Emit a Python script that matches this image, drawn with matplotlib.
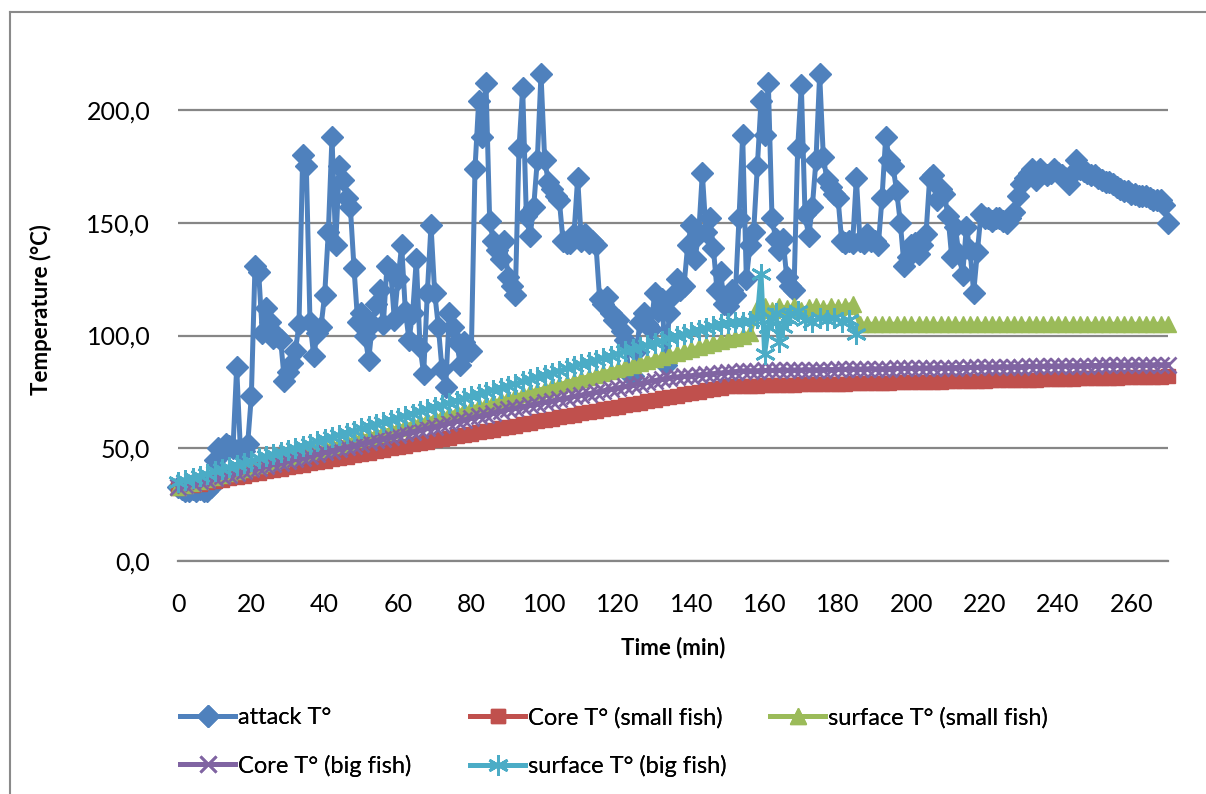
import numpy as np
import matplotlib.pyplot as plt
from matplotlib.lines import Line2D

plt.rcParams['font.family'] = ['Lato', 'DejaVu Sans']

# attack temperature, one reading per minute (0..270)
attack_temp = [
    33, 32, 31, 31, 32, 31, 32, 31, 31, 33,
    45, 50, 48, 52, 51, 50, 86, 50, 49, 52,
    73, 131, 128, 101, 112, 106, 99, 100, 98, 80,
    84, 88, 93, 105, 180, 175, 106, 91, 101, 104,
    118, 146, 188, 140, 175, 169, 161, 157, 130, 106,
    110, 100, 89, 105, 114, 120, 105, 131, 129, 107,
    125, 140, 111, 98, 110, 134, 95, 83, 119, 149,
    119, 104, 85, 77, 110, 104, 97, 87, 97, 93,
    93, 174, 204, 188, 212, 151, 142, 138, 134, 142,
    126, 122, 118, 183, 210, 153, 144, 157, 178, 216,
    178, 168, 165, 162, 160, 142, 141, 141, 145, 170,
    142, 145, 141, 142, 140, 116, 114, 117, 110, 107,
    107, 102, 98, 83, 82, 93, 106, 110, 105, 103,
    119, 111, 116, 87, 110, 118, 125, 120, 122, 140,
    149, 134, 145, 172, 146, 152, 139, 120, 128, 114,
    113, 120, 118, 152, 189, 125, 140, 146, 175, 204,
    189, 212, 152, 143, 138, 143, 126, 122, 120, 183,
    211, 154, 144, 157, 178, 216, 179, 169, 166, 163,
    161, 142, 141, 142, 141, 170, 142, 141, 145, 142,
    142, 140, 161, 188, 178, 175, 164, 150, 131, 135,
    140, 141, 136, 140, 145, 170, 171, 160, 165, 163,
    153, 135, 148, 136, 127, 148, 138, 119, 137, 154,
    152, 152, 151, 152, 152, 151, 150, 152, 155, 162,
    167, 170, 172, 174, 169, 174, 172, 171, 172, 174,
    172, 171, 170, 167, 172, 178, 174, 173, 172, 171,
    171, 170, 169, 168, 168, 167, 166, 165, 164, 164,
    163, 163, 162, 162, 162, 161, 160, 160, 160, 158,
    150,
]
attack_min = np.arange(len(attack_temp))

# smooth probes, one reading every 2 minutes (0..270)
core_small = [
    32.5, 33.1, 33.7, 34.3, 34.9, 35.5, 36.1, 36.7, 37.3, 37.9,
    38.5, 39.1, 39.7, 40.3, 40.9, 41.5, 42.1, 42.7, 43.3, 43.9,
    44.5, 45.1, 45.7, 46.3, 46.9, 47.5, 48.1, 48.7, 49.3, 49.9,
    50.5, 51.1, 51.7, 52.3, 52.9, 53.5, 54.1, 54.7, 55.3, 55.9,
    56.5, 57.1, 57.7, 58.3, 58.9, 59.5, 60.1, 60.7, 61.3, 61.9,
    62.5, 63.1, 63.7, 64.3, 64.9, 65.5, 66.1, 66.7, 67.3, 67.9,
    68.5, 69.1, 69.7, 70.3, 70.9, 71.5, 72.1, 72.7, 73.3, 73.9,
    74.5, 75.1, 75.7, 76.3, 76.9, 77.5,
    77.6, 77.7, 77.7, 77.8, 77.9, 78.0, 78.0, 78.1, 78.2, 78.3,
    78.3, 78.4, 78.5, 78.5, 78.6, 78.7, 78.8, 78.8, 78.9, 79.0,
    79.0, 79.1, 79.2, 79.3, 79.3, 79.4, 79.5, 79.5, 79.6, 79.7,
    79.8, 79.8, 79.9, 80.0, 80.0, 80.1, 80.2, 80.3, 80.3, 80.4,
    80.5, 80.5, 80.6, 80.7, 80.8, 80.8, 80.9, 81.0, 81.0, 81.1,
    81.2, 81.3, 81.3, 81.4, 81.5, 81.5, 81.6, 81.7, 81.8, 81.9,
]
surface_small = [
    33.0, 33.9, 34.7, 35.6, 36.5, 37.4, 38.2, 39.1, 40.0, 40.8,
    41.7, 42.6, 43.4, 44.3, 45.2, 46.1, 46.9, 47.8, 48.7, 49.5,
    50.4, 51.3, 52.1, 53.0, 53.9, 54.8, 55.6, 56.5, 57.4, 58.2,
    59.1, 60.0, 60.8, 61.7, 62.6, 63.5, 64.3, 65.2, 66.1, 66.9,
    67.8, 68.7, 69.5, 70.4, 71.3, 72.2, 73.0, 73.9, 74.8, 75.6,
    76.5, 77.4, 78.2, 79.1, 80.0, 80.9, 81.7, 82.6, 83.5, 84.3,
    85.2, 86.1, 86.9, 87.8, 88.7, 89.6, 90.4, 91.3, 92.2, 93.0,
    93.9, 94.8, 95.6, 96.5, 97.4, 98.3, 99.1, 100.0,
    101.0, 112.0, 113.0, 111.5, 113.0, 112.0, 113.0, 111.5, 112.5, 113.0,
    112.0, 113.0, 112.5, 113.0, 114.0,
    105.0, 105.0, 105.0, 105.0, 105.0, 105.0, 105.0, 105.0, 105.0, 105.0,
    105.0, 105.0, 105.0, 105.0, 105.0, 105.0, 105.0, 105.0, 105.0, 105.0,
    105.0, 105.0, 105.0, 105.0, 105.0, 105.0, 105.0, 105.0, 105.0, 105.0,
    105.0, 105.0, 105.0, 105.0, 105.0, 105.0, 105.0, 105.0, 105.0, 105.0,
    105.0, 105.0, 105.0,
]
core_big = [
    33.0, 33.8, 34.5, 35.3, 36.0, 36.8, 37.6, 38.3, 39.1, 39.8,
    40.6, 41.4, 42.1, 42.9, 43.6, 44.4, 45.2, 45.9, 46.7, 47.4,
    48.2, 49.0, 49.7, 50.5, 51.2, 52.0, 52.8, 53.5, 54.3, 55.0,
    55.8, 56.6, 57.3, 58.1, 58.8, 59.6, 60.4, 61.1, 61.9, 62.6,
    63.4, 64.2, 64.9, 65.7, 66.4, 67.2,
    67.8, 68.5, 69.1, 69.8, 70.4, 71.0, 71.7, 72.3, 73.0, 73.6,
    74.2, 74.9, 75.5, 76.2, 76.8, 77.4, 78.1, 78.7, 79.4, 80.0,
    80.6, 81.3,
    81.6, 81.9, 82.2, 82.5, 82.8, 83.1, 83.4, 83.7, 84.0, 84.3,
    84.4, 84.4, 84.5, 84.5, 84.6, 84.6, 84.7, 84.7, 84.8, 84.8,
    84.9, 84.9, 85.0, 85.0, 85.1, 85.1, 85.2, 85.2, 85.3, 85.3,
    85.4, 85.4, 85.5, 85.5, 85.6, 85.6, 85.7, 85.7, 85.8, 85.8,
    85.9, 85.9, 86.0, 86.0, 86.1, 86.1, 86.2, 86.2, 86.3, 86.3,
    86.4, 86.4, 86.5, 86.5, 86.6, 86.6, 86.7, 86.7, 86.8, 86.8,
    86.8, 86.9, 86.9, 86.9, 87.0, 87.0, 87.0, 87.1,
]
probe_min = np.arange(0, 271, 2)

# surface of the big fish: every 2 minutes up to 148, then the probe jumps around
surface_big_head = [
    35.0, 36.0, 36.9, 37.9, 38.8, 39.8, 40.7, 41.7, 42.6, 43.6,
    44.5, 45.5, 46.4, 47.4, 48.3, 49.3, 50.2, 51.2, 52.1, 53.1,
    54.0, 55.0, 55.9, 56.9, 57.8, 58.8, 59.7, 60.7, 61.6, 62.6,
    63.5, 64.5, 65.4, 66.4, 67.3, 68.3, 69.2, 70.2, 71.1, 72.1,
    73.0, 74.0, 74.9, 75.9, 76.8, 77.8, 78.7, 79.7, 80.6, 81.6,
    82.5, 83.5, 84.4, 85.4, 86.3, 87.3, 88.2, 89.2, 90.1, 91.1,
    92.0, 93.0, 93.9, 94.9, 95.8, 96.8, 97.7, 98.7, 99.6, 100.6,
    101.5, 102.5, 103.4, 104.4, 105.0,
]
surface_big_tail_min = [150, 152, 154, 156, 158, 159, 160, 161, 162, 163, 164, 165,
                        166, 167, 169, 171, 173, 175, 177, 179, 181, 183, 185]
surface_big_tail = [105.5, 106, 106, 106.5, 108, 127.5, 92, 104, 108, 110, 97, 104,
                    108, 109, 111, 107, 106, 108, 107, 108, 106, 107, 100.5]
surface_big_min = np.concatenate([np.arange(0, 149, 2), surface_big_tail_min])
surface_big = surface_big_head + surface_big_tail

ytick_vals = [0, 50, 100, 150, 200]
ytick_labels = ['0,0', '50,0', '100,0', '150,0', '200,0']
xtick_vals = list(range(0, 261, 20))

W, H = 1206, 794
fig = plt.figure(figsize=(W / 100, H / 100), dpi=100)
ax = fig.add_axes([178 / W, 1 - 561 / H, 990 / W, 496 / H])

blue, red, green, purple, cyan = '#4F81BD', '#C0504D', '#9BBB59', '#8064A2', '#4BACC6'
lw = 3.6
h1, = ax.plot(attack_min, attack_temp, color=blue, lw=lw, marker='D', ms=11,
              clip_on=False, zorder=3, label='attack T°')
h2, = ax.plot(probe_min, core_small, color=red, lw=lw, marker='s', ms=10,
              clip_on=False, zorder=4, label='Core T° (small fish)')
h3, = ax.plot(probe_min, surface_small, color=green, lw=lw, marker='^', ms=12,
              clip_on=False, zorder=5, label='surface T° (small fish)')
h4, = ax.plot(probe_min, core_big, color=purple, lw=lw, marker='x', ms=11, mew=2,
              clip_on=False, zorder=6, label='Core T° (big fish)')
h5, = ax.plot(surface_big_min, surface_big, color=cyan, lw=lw, marker=(6, 2, 0), ms=15,
              mew=2, clip_on=False, zorder=7, label='surface T° (big fish)')

ax.set_xlim(0, 270)
ax.set_ylim(0, 220)
ax.set_yticks(ytick_vals)
ax.set_yticklabels(ytick_labels)
ax.set_xticks(xtick_vals)
ax.yaxis.grid(True, color='#868686', lw=1.6)
ax.set_axisbelow(True)
for s in ['top', 'right', 'left']:
    ax.spines[s].set_visible(False)
ax.spines['bottom'].set_color('#868686')
ax.spines['bottom'].set_linewidth(1.6)
ax.tick_params(axis='both', length=0, labelsize=18)
ax.tick_params(axis='y', pad=20)
ax.tick_params(axis='x', pad=23)

ax.set_xlabel('Time (min)', fontsize=16, fontweight='bold')
ax.set_ylabel('Temperature (°C)', fontsize=16, fontweight='bold')
ax.xaxis.set_label_coords(0.5, -0.152)
ax.yaxis.set_label_coords(-0.127, 0.506)

# legend: three columns placed like the original
leg_kw = dict(loc='upper left', frameon=False, fontsize=17, handlelength=2.35,
              handletextpad=0.1, labelspacing=1.12, borderpad=0, borderaxespad=0,
              numpoints=1)
cols = [([h1, h4], 180), ([h2, h5], 470), ([h3], 770)]
for handles, x0 in cols:
    lg = fig.legend(handles=handles, bbox_to_anchor=(x0 / W, 1 - 707 / H), **leg_kw)
    fig.add_artist(lg)

# chart frame
fig.add_artist(Line2D([10 / W, 10 / W], [0, 1 - 12 / H], transform=fig.transFigure,
                      color='#8a8a8a', lw=1.5))
fig.add_artist(Line2D([10 / W, 1], [1 - 12 / H, 1 - 12 / H], transform=fig.transFigure,
                      color='#8a8a8a', lw=1.5))

fig.savefig('out.png', dpi=100)
